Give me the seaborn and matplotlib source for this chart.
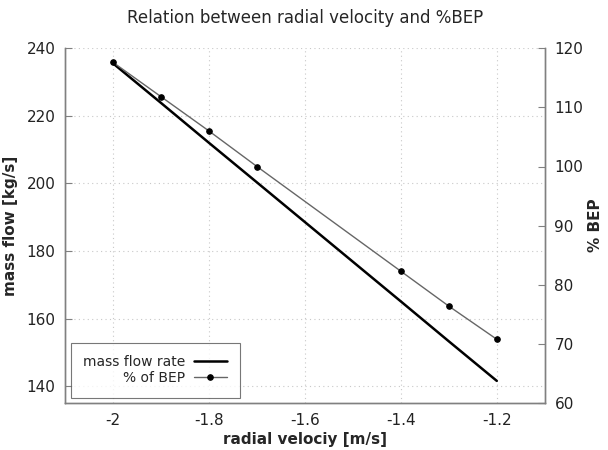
import matplotlib
matplotlib.use("Agg")
import matplotlib.pyplot as plt
import pandas as pd
import seaborn as sns

radial_velocity = [-2.0, -1.9, -1.8, -1.7, -1.4, -1.3, -1.2]
mass_flow = [235.5, 223.8, 212.0, 200.3, 165.1, 153.3, 141.6]
bep_percent = [117.6, 111.8, 106.0, 100.0, 82.3, 76.4, 70.8]

df = pd.DataFrame({
    'vr': radial_velocity,
    'mass': mass_flow,
    'bep': bep_percent,
})

sns.set_style("white")
plt.rcParams['font.family'] = ['DejaVu Sans']

fig = plt.figure(figsize=(6.08, 4.5), dpi=100)
ax = fig.add_axes([0.107, 0.104, 0.789, 0.789])
ax2 = ax.twinx()

sns.lineplot(data=df, x='vr', y='mass', ax=ax, color='black', linewidth=1.8,
             label='mass flow rate', legend=False)
sns.lineplot(data=df, x='vr', y='bep', ax=ax2, color='#666666', linewidth=1.0,
             marker='o', markersize=4, markerfacecolor='black',
             markeredgecolor='black', label='% of BEP', legend=False)

ax.set_xlim(-2.1, -1.1)
ax.set_ylim(135, 240)
ax2.set_ylim(60, 120)
ax.set_xticks([-2.0, -1.8, -1.6, -1.4, -1.2])
ax.set_xticklabels(['-2', '-1.8', '-1.6', '-1.4', '-1.2'])
ax.set_yticks([140, 160, 180, 200, 220, 240])
ax2.set_yticks([60, 70, 80, 90, 100, 110, 120])

ax.grid(True, linestyle=(0, (1, 3)), color='#c8c8c8', linewidth=0.8)
for a in (ax, ax2):
    a.spines['top'].set_visible(False)
    for s in ('left', 'right', 'bottom'):
        a.spines[s].set_color('#808080')
        a.spines[s].set_linewidth(1.0)
    a.tick_params(direction='in', length=5, color='#808080', labelsize=11,
                  labelcolor='#222222', pad=7)

ax.set_xlabel('radial velociy [m/s]', fontsize=11, fontweight='bold', labelpad=3)
ax.set_ylabel('mass flow [kg/s]', fontsize=11, fontweight='bold', labelpad=6)
ax2.set_ylabel('% BEP', fontsize=11, fontweight='bold', labelpad=3)
ax.set_title('Relation between radial velocity and %BEP', fontsize=12, pad=18)

h1, l1 = ax.get_legend_handles_labels()
h2, l2 = ax2.get_legend_handles_labels()
leg = ax2.legend(h1 + h2, l1 + l2, loc='lower left', markerfirst=False,
                 fontsize=10, frameon=True, fancybox=False, borderaxespad=0.4,
                 borderpad=0.9, handlelength=2.4, labelspacing=0.15,
                 handletextpad=0.6)
leg.get_frame().set_edgecolor('#555555')
leg.get_frame().set_linewidth(0.8)
for t in leg.get_texts():
    t.set_ha('right')
leg._legend_box.align = 'right'

fig.savefig('out.png', dpi=100)
